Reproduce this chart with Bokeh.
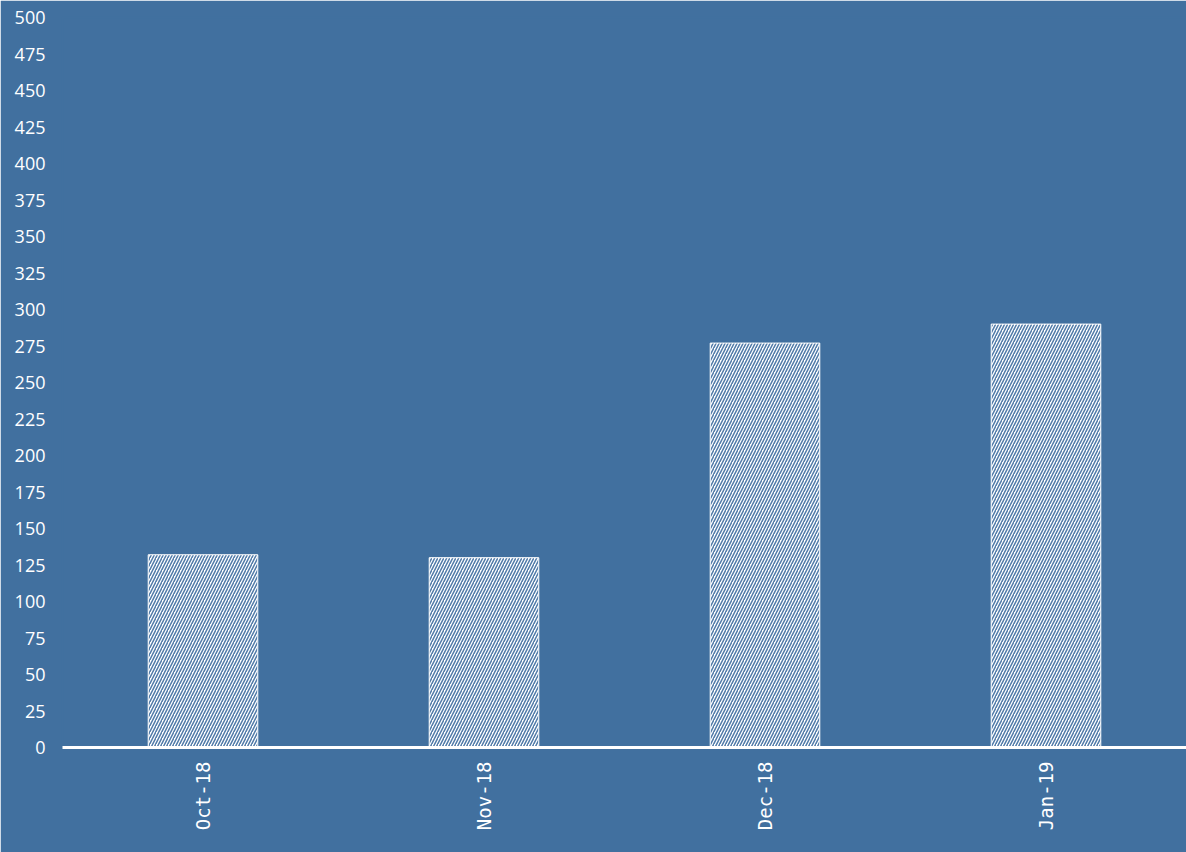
import math
from bokeh.plotting import figure
from bokeh.models import ColumnDataSource, FixedTicker, Range1d
from bokeh.embed import file_html
from bokeh.resources import INLINE

months = ["Oct-18", "Nov-18", "Dec-18", "Jan-19"]
values = [132, 130, 277, 290]
y_ticks = list(range(0, 501, 25))

BG = "#41709f"

src = ColumnDataSource(data=dict(month=months, value=values))

p = figure(x_range=months, y_range=Range1d(0, 500), width=1186, height=852,
           output_backend="svg", toolbar_location=None,
           min_border_left=62, min_border_right=0, min_border_top=17, min_border_bottom=105)
p.background_fill_color = BG
p.border_fill_color = BG
p.outline_line_color = BG
p.outline_line_width = 2
p.grid.grid_line_color = None
p.x_range.range_padding = 0

p.vbar(x="month", top="value", width=0.39, source=src,
       fill_color="white", line_color="white", line_width=1,
       hatch_pattern="/", hatch_color="#4f7aa8", hatch_scale=6, hatch_weight=1.5)

p.yaxis.ticker = FixedTicker(ticks=y_ticks)
p.yaxis.axis_line_color = None
p.yaxis.major_tick_line_color = None
p.yaxis.minor_tick_line_color = None
p.yaxis.major_tick_out = 0
p.yaxis.major_label_standoff = 17
p.yaxis.major_label_text_color = "white"
p.yaxis.major_label_text_font = "Open Sans"
p.yaxis.major_label_text_font_size = "18px"

p.xaxis.axis_line_color = "white"
p.xaxis.axis_line_width = 3
p.xaxis.major_tick_line_color = None
p.xaxis.minor_tick_line_color = None
p.xaxis.major_tick_out = 0
p.xaxis.major_label_standoff = 14
p.xaxis.major_label_orientation = math.pi / 2
p.xaxis.major_label_text_color = "white"
p.xaxis.major_label_text_font = "DejaVu Sans Mono"
p.xaxis.major_label_text_font_size = "19px"

open("out.html", "w").write(file_html(p, INLINE))
